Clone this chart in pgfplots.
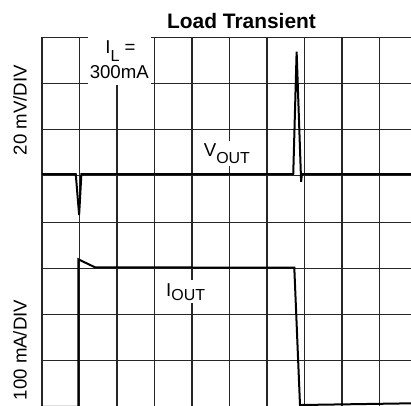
\documentclass[border=0pt]{standalone}
\usepackage{fontspec}
\setmainfont{Liberation Sans}
\usepackage{pgfplots}
\pgfplotsset{compat=1.18}
\newcommand{\lblfont}{\fontsize{18.7}{22}\selectfont}
\newcommand{\subfont}{\fontsize{16}{16}\selectfont}
\begin{document}
\begin{tikzpicture}
\begin{axis}[
  at={(0,0)}, anchor=south west,
  scale only axis, width=369bp, height=368.7bp,
  xmin=0, xmax=9.84, ymin=0.02, ymax=8,
  axis line style={draw=none},
  xtick={0,...,9}, ytick={1,...,8},
  xticklabels={}, yticklabels={},
  major tick length=0pt,
  grid=major,
  major grid style={black!85, line width=1.1bp},
  clip=false,
]
% V_OUT trace
\addplot[black, line width=2bp, line join=miter] coordinates {
 (0,5.041) (0.90,5.041) (0.99,4.154) (1.05,5.041) (6.70,5.041)
 (6.79,7.688) (6.91,4.874) (6.93,5.041) (9.84,5.041)};
% I_OUT trace
\addplot[black, line width=2bp, line join=miter] coordinates {
 (0,0) (0.968,0) (0.968,3.195) (1.413,3.022) (6.728,3.013)
 (6.88,0.041) (9.84,0.078)};
% label boxes
\fill[white] (axis cs:1.235,8.06) rectangle (axis cs:2.907,6.968);
\node[anchor=base, inner sep=0pt] at (axis cs:2.09,7.654) {\lblfont I\raisebox{-8bp}{\subfont L} =};
\node[anchor=base, inner sep=0pt] at (axis cs:2.061,7.113) {\lblfont 300mA};
\node[anchor=base west, fill=white, inner xsep=1bp, inner ysep=3bp] at (axis cs:4.285,5.416) {\lblfont V\raisebox{-6.6bp}{\subfont OUT}};
\node[anchor=base west, fill=white, inner xsep=1bp, inner ysep=3bp] at (axis cs:3.28,2.400) {\lblfont I\raisebox{-4bp}{\subfont OUT}};
% title
\node[anchor=base, inner sep=0pt] at (axis cs:5.32,8.195) {\fontsize{21}{24}\selectfont\bfseries Load Transient};
% y labels
\node[anchor=base, rotate=90, inner sep=0pt] at (axis cs:-0.408,6.426) {\lblfont 20 mV/DIV};
\node[anchor=base, rotate=90, inner sep=0pt] at (axis cs:-0.408,1.232) {\lblfont 100 mA/DIV};
\end{axis}
\pgfresetboundingbox
\useasboundingbox (-42bp,0) rectangle (369bp,406bp);
\end{tikzpicture}
\end{document}
